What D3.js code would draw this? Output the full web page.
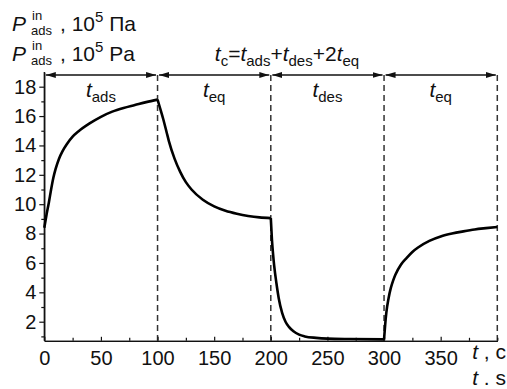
<!DOCTYPE html>
<html>
<head>
<meta charset="utf-8">
<script src="https://cdn.jsdelivr.net/npm/d3@7"></script>
<style>
  body { margin: 0; background: #fff; }
  svg { display: block; font-family: "Liberation Sans", Arial, sans-serif; }
</style>
</head>
<body>
<div id="chart"></div>
<script>
// --- Daten ---
// Adsorption 0..100 s
const adsT = [0, 2, 4, 6, 8, 10, 13, 16, 20, 25, 30, 40, 50, 60, 70, 80, 90, 100];
const adsP = [8.4, 9.3, 10.1, 11.0, 11.8, 12.4, 13.1, 13.6, 14.1, 14.6, 14.95, 15.5, 15.95, 16.3, 16.55, 16.75, 16.95, 17.12];
// Ausgleich 100..200 s
const eq1T = [100, 102, 105, 108, 110, 115, 120, 125, 130, 140, 150, 160, 170, 180, 190, 200];
const eq1P = [17.12, 16.6, 15.8, 14.9, 14.3, 13.1, 12.2, 11.5, 11.0, 10.3, 9.85, 9.55, 9.35, 9.2, 9.1, 9.05];
// Desorption 200..300 s
const desT = [200, 201, 202, 203, 205, 207, 210, 213, 216, 220, 225, 230, 240, 250, 270, 300];
const desP = [9.05, 7.6, 6.6, 5.8, 4.6, 3.6, 2.6, 2.0, 1.65, 1.35, 1.12, 1.0, 0.9, 0.85, 0.82, 0.8];
// Ausgleich 300..400 s
const eq2T = [300, 301, 302, 304, 306, 308, 310, 315, 320, 325, 330, 340, 350, 360, 370, 380, 390, 400];
const eq2P = [0.8, 1.8, 2.6, 3.6, 4.3, 4.8, 5.2, 5.9, 6.35, 6.75, 7.05, 7.5, 7.8, 8.0, 8.15, 8.28, 8.37, 8.45];

const xTicks = [0, 50, 100, 150, 200, 250, 300, 350];
const xMinor = [25, 75, 125, 175, 225, 275, 325, 375, 400];
const yTicks = [2, 4, 6, 8, 10, 12, 14, 16, 18];
const yMinor = [1, 3, 5, 7, 9, 11, 13, 15, 17];
const bounds = [0, 100, 200, 300, 400];            // Phasengrenzen
const phaseLabels = ["ads", "eq", "des", "eq"];     // Indizes der t-Labels

const W = 507, H = 389;

const svg = d3.select("#chart").append("svg")
    .attr("width", W)
    .attr("height", H);

// Skalen
const x = d3.scaleLinear().domain([0, 400]).range([44.3, 497.3]);
const y = d3.scaleLinear().domain([0.7, 19]).range([340.8, 72]);

const ink = "#111";
const arrowY = 75;

// gestrichelte Linien an den Phasengrenzen
svg.selectAll("line.dash")
    .data(bounds.slice(1))
    .enter()
    .append("line")
    .attr("x1", d => x(d)).attr("x2", d => x(d))
    .attr("y1", arrowY).attr("y2", y(0.7))
    .attr("stroke", "#333")
    .attr("stroke-width", 1.5)
    .attr("stroke-dasharray", "6,4");

// Achsen
const yAxis = svg.append("g")
    .attr("transform", `translate(${x(0)},0)`)
    .call(d3.axisLeft(y).tickValues(yTicks).tickSize(5).tickPadding(3).tickSizeOuter(0));
svg.append("g")
    .attr("transform", `translate(${x(0)},0)`)
    .call(d3.axisLeft(y).tickValues(yMinor).tickSize(3).tickFormat("").tickSizeOuter(0));

const xAxis = svg.append("g")
    .attr("transform", `translate(0,${y(0.7)})`)
    .call(d3.axisBottom(x).tickValues(xTicks).tickSize(-4).tickPadding(10).tickSizeOuter(0));
svg.append("g")
    .attr("transform", `translate(0,${y(0.7)})`)
    .call(d3.axisBottom(x).tickValues(xMinor).tickSize(-3).tickFormat("").tickSizeOuter(0));

svg.selectAll(".domain").attr("stroke", ink).attr("stroke-width", 1.3);
svg.selectAll(".tick line").attr("stroke", ink).attr("stroke-width", 1.2);
svg.selectAll(".tick text").attr("font-size", 20).attr("fill", "#111")
    .attr("font-family", "Liberation Sans, Arial, sans-serif");
yAxis.select(".domain").attr("d", `M0,${y(0.7)}V${y(19)}`);

// Kurve (je Phase eigener Pfad, damit die Knicke scharf bleiben)
const line = d3.line()
    .x(d => x(d[0]))
    .y(d => y(d[1]))
    .curve(d3.curveMonotoneX);

[[adsT, adsP], [eq1T, eq1P], [desT, desP], [eq2T, eq2P]].forEach(([ts, ps]) => {
    svg.append("path")
        .datum(ts.map((t, i) => [t, ps[i]]))
        .attr("fill", "none")
        .attr("stroke", "#000")
        .attr("stroke-width", 2.6)
        .attr("stroke-linejoin", "round")
        .attr("d", line);
});

// Doppelpfeile oben
const defs = svg.append("defs");
["start", "end"].forEach(k => {
    defs.append("marker")
        .attr("id", "arr-" + k)
        .attr("viewBox", "0 0 10 6")
        .attr("refX", k === "end" ? 10 : 0).attr("refY", 3)
        .attr("markerWidth", 10).attr("markerHeight", 6)
        .attr("markerUnits", "userSpaceOnUse")
        .attr("orient", "auto")
        .append("path")
        .attr("d", k === "end" ? "M0,0L10,3L0,6Z" : "M10,0L0,3L10,6Z")
        .attr("fill", ink);
});

for (let i = 0; i < 4; i++) {
    svg.append("line")
        .attr("x1", x(bounds[i]) + 1.5)
        .attr("x2", x(bounds[i + 1]) - 1.5)
        .attr("y1", arrowY).attr("y2", arrowY)
        .attr("stroke", ink)
        .attr("stroke-width", 1.3)
        .attr("marker-start", "url(#arr-start)")
        .attr("marker-end", "url(#arr-end)");

    const lbl = svg.append("text")
        .attr("x", x((bounds[i] + bounds[i + 1]) / 2))
        .attr("y", 97)
        .attr("text-anchor", "middle")
        .attr("font-size", 21)
        .attr("fill", "#111");
    lbl.append("tspan").attr("font-style", "italic").text("t");
    lbl.append("tspan").attr("font-size", 15).attr("dy", 5).text(phaseLabels[i]);
}

// Formel t_c = t_ads + t_des + 2 t_eq
const f = svg.append("text")
    .attr("x", 287).attr("y", 61)
    .attr("text-anchor", "middle")
    .attr("font-size", 21)
    .attr("fill", "#111");
[["t", true, 0], ["c", false, 5], ["=", false, -5], ["t", true, 0], ["ads", false, 5],
 ["+", false, -5], ["t", true, 0], ["des", false, 5], ["+2", false, -5], ["t", true, 0], ["eq", false, 5]]
    .forEach(([s, it, dy]) => {
        const sp = f.append("tspan").text(s).attr("dy", dy);
        if (it) sp.attr("font-style", "italic");
        if (dy > 0) sp.attr("font-size", 15);
    });

// y-Achsentitel (zweisprachig)
function unitLabel(baseline, unit) {
    svg.append("text").attr("x", 12).attr("y", baseline)
        .attr("font-size", 21).attr("font-style", "italic").attr("fill", "#111").text("P");
    svg.append("text").attr("x", 32).attr("y", baseline - 11)
        .attr("font-size", 13).attr("fill", "#111").text("in");
    svg.append("text").attr("x", 31).attr("y", baseline + 4)
        .attr("font-size", 13).attr("fill", "#111").text("ads");
    const t = svg.append("text").attr("x", 60).attr("y", baseline)
        .attr("font-size", 21).attr("fill", "#111");
    t.append("tspan").text(", 10");
    t.append("tspan").attr("font-size", 15).attr("dy", -9).text("5");
    t.append("tspan").attr("dy", 9).text(" " + unit);
}
unitLabel(31, "Па");
unitLabel(61, "Pa");

// x-Achsentitel (zweisprachig)
function tLabel(baseline, sep, unit) {
    const t = svg.append("text").attr("x", 506).attr("y", baseline)
        .attr("text-anchor", "end")
        .attr("font-size", 21).attr("fill", "#111");
    t.append("tspan").attr("font-style", "italic").text("t");
    t.append("tspan").text(" " + sep + " " + unit);
}
tLabel(359, ",", "c");
tLabel(385, ".", "s");
</script>
</body>
</html>
